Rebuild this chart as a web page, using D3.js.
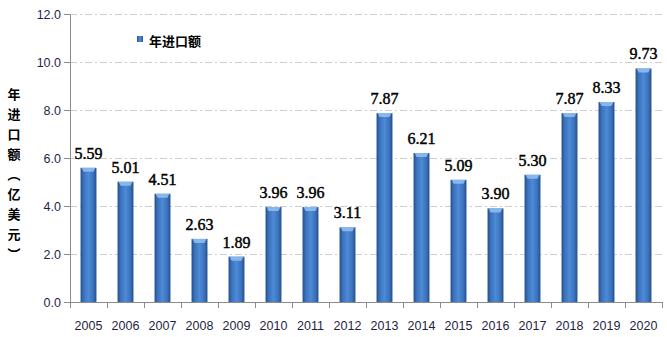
<!DOCTYPE html>
<html><head><meta charset="utf-8">
<script src="https://cdn.jsdelivr.net/npm/d3@7"></script>
<style>body{margin:0;background:#fff}svg{display:block}</style>
</head><body>
<svg id="c" width="667" height="337"></svg>
<script>
const years = ["2005","2006","2007","2008","2009","2010","2011","2012","2013","2014","2015","2016","2017","2018","2019","2020"];
const imports = [5.59,5.01,4.51,2.63,1.89,3.96,3.96,3.11,7.87,6.21,5.09,3.90,5.30,7.87,8.33,9.73];
const yTicks = [0,2,4,6,8,10,12];
const seriesName = "年进口额";
const yTitle = ["年","进","口","额","︵","亿","美","元","︶"];

const svg = d3.select("#c");
const L = 70, R = 662, T = 14, B = 302;
const x = d3.scaleBand().domain(years).range([L, R]).paddingInner(0.57).paddingOuter(0.285);
const y = d3.scaleLinear().domain([0, 12]).range([B, T]);

const defs = svg.append("defs");
const g = defs.append("linearGradient").attr("id","bg").attr("x1","0").attr("x2","1").attr("y1","0").attr("y2","0");
g.append("stop").attr("offset","0").attr("stop-color","#234f8c");
g.append("stop").attr("offset","0.2").attr("stop-color","#3b72bc");
g.append("stop").attr("offset","0.5").attr("stop-color","#4d8ad6");
g.append("stop").attr("offset","0.8").attr("stop-color","#3b72bc");
g.append("stop").attr("offset","1").attr("stop-color","#234f8c");

// gridlines
svg.append("g").selectAll("line").data(yTicks.filter(d=>d>0)).join("line")
  .attr("x1", L).attr("x2", R).attr("y1", d=>y(d)+0.5).attr("y2", d=>y(d)+0.5)
  .attr("stroke","#cfcfcf").attr("stroke-dasharray","7,3,2,3");

// bars
const bars = svg.append("g").selectAll("g").data(years).join("g");
bars.append("rect")
  .attr("x", d=>x(d)).attr("width", x.bandwidth())
  .attr("y", (d,i)=>y(imports[i])).attr("height", (d,i)=>B - y(imports[i]))
  .attr("fill","url(#bg)");
bars.append("path")
  .attr("d", (d,i)=>{const x0=x(d), w=x.bandwidth(), t=y(imports[i]);
    return `M${x0+1},${t}L${x0+w-1},${t}L${x0+w-3},${t+4}L${x0+3},${t+4}Z`;})
  .attr("fill","#8dbcf0").attr("opacity",0.9);

// y axis
const ya = svg.append("g").attr("transform",`translate(${L},0)`)
  .call(d3.axisLeft(y).tickValues(yTicks).tickFormat(d3.format(".1f")).tickSize(6).tickSizeOuter(0));
ya.select(".domain").attr("stroke","#8c8c8c");
ya.selectAll(".tick line").attr("stroke","#8c8c8c");
ya.selectAll(".tick text").attr("font-family","Liberation Sans, sans-serif").attr("font-size","12.5px").attr("fill","#1f1f4f").attr("x",-9);

// x axis
svg.append("line").attr("x1",L).attr("x2",R).attr("y1",B+0.5).attr("y2",B+0.5).attr("stroke","#8c8c8c");
const bounds = years.map(d=>x(d) - x.step()*x.paddingInner()/2).concat([R]);
svg.append("g").selectAll("line").data(bounds).join("line")
  .attr("x1",d=>Math.round(d)+0.5).attr("x2",d=>Math.round(d)+0.5).attr("y1",B).attr("y2",B+6).attr("stroke","#8c8c8c");
svg.append("g").selectAll("text").data(years).join("text")
  .attr("x", d=>x(d)+x.bandwidth()/2).attr("y", 330).attr("text-anchor","middle")
  .attr("font-family","Liberation Sans, sans-serif").attr("font-size","12.5px").attr("fill","#1f1f3f").text(d=>d);

// value labels
svg.append("g").selectAll("text").data(years).join("text")
  .attr("x", d=>x(d)+x.bandwidth()/2).attr("y",(d,i)=>y(imports[i])-9).attr("text-anchor","middle")
  .attr("font-family","Liberation Serif, serif").attr("font-size","16px").attr("fill","#000")
  .attr("stroke","#000").attr("stroke-width",0.45)
  .text((d,i)=>imports[i].toFixed(2));

// legend
svg.append("rect").attr("x",137).attr("y",36).attr("width",6).attr("height",6).attr("fill","url(#bg)");
svg.append("text").attr("x",149).attr("y",46).attr("font-family","Noto Sans CJK SC, sans-serif")
  .attr("font-size","13px").attr("font-weight","bold").attr("fill","#000").text(seriesName);

// y title (vertical)
svg.append("g").selectAll("text").data(yTitle).join("text")
  .attr("x",14).attr("y",(d,i)=>99 + i*20).attr("text-anchor","middle")
  .attr("font-family","Noto Sans CJK SC, sans-serif").attr("font-size","13px").attr("font-weight","bold").attr("fill","#000")
  .text(d=>d);
</script>
</body></html>
